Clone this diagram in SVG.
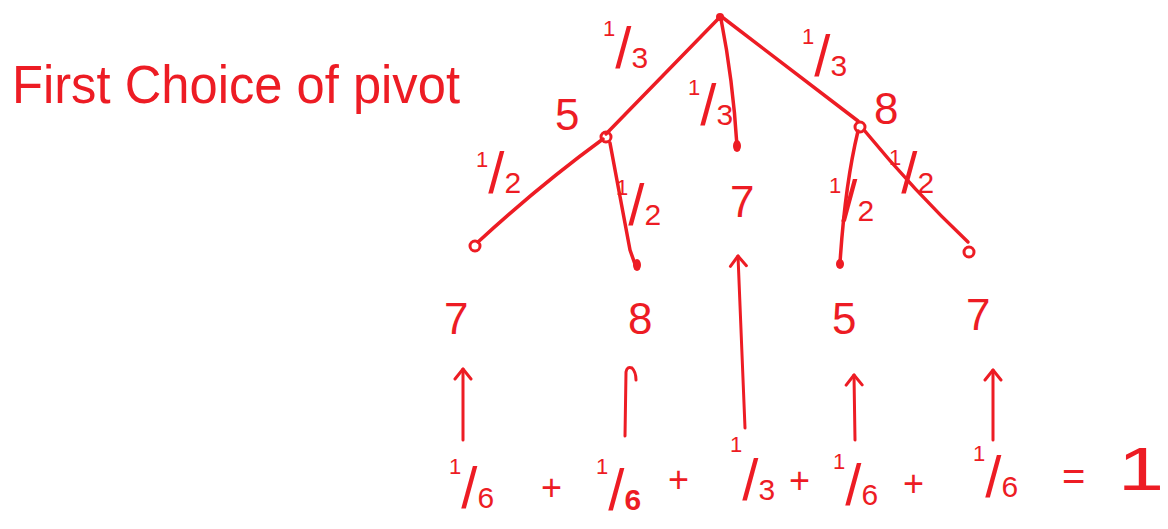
<svg xmlns="http://www.w3.org/2000/svg" width="1168" height="529" viewBox="0 0 1168 529">
<defs>
<style>
.ink{fill:#ed1c24;font-family:"Liberation Sans","DejaVu Sans",sans-serif;}
.edge{fill:none;stroke:#ed1c24;stroke-width:3.5;stroke-linecap:round;stroke-linejoin:round;}
.arr{fill:none;stroke:#ed1c24;stroke-width:3;stroke-linecap:round;stroke-linejoin:round;}
.ring{fill:none;stroke:#ed1c24;stroke-width:3;}
.dot{fill:#ed1c24;}
.big{font-size:44px;}
.n{font-size:22px;}
.s{font-size:58px;}
.d{font-size:30px;}
.plus{font-size:36px;}
</style>
<marker id="head" viewBox="0 0 20 20" refX="16" refY="10" markerWidth="20" markerHeight="20" markerUnits="userSpaceOnUse" orient="auto">
<path d="M6,2 L16,10 L6,18" fill="none" stroke="#ed1c24" stroke-width="3" stroke-linecap="round" stroke-linejoin="round"/>
</marker>
</defs>
<rect width="1168" height="529" fill="#ffffff"/>

<g id="title">
<text class="ink" x="12" y="103" font-size="54" textLength="448" lengthAdjust="spacingAndGlyphs">First Choice of pivot</text>
</g>

<g id="connectors">
<path class="edge" d="M720,17 L606,134"/>
<path class="edge" d="M721,19 Q733,80 737,146"/>
<path class="edge" d="M722,17 L858,121"/>
<path class="edge" d="M603,139 Q540,185 478,242"/>
<path class="edge" d="M610,143 L630,250 L636,267"/>
<path class="edge" d="M858,131 Q845,185 840,263"/>
<path class="edge" d="M864,130 Q915,192 968,242"/>
<path class="arr" d="M463,440 L463,369" marker-end="url(#head)"/>
<path class="arr" d="M625,436 L626,372 Q627,366 632,368 Q636,372 636,380"/>
<path class="arr" d="M745,428 L738,256" marker-end="url(#head)"/>
<path class="arr" d="M855,440 L854,375" marker-end="url(#head)"/>
<path class="arr" d="M993,440 L993,370" marker-end="url(#head)"/>
</g>

<g id="root">
<circle class="dot" cx="720" cy="17" r="4"/>
</g>

<g id="node-5">
<circle class="ring" cx="606" cy="137" r="5"/>
<text class="ink big" x="555" y="130">5</text>
</g>

<g id="node-7-mid">
<ellipse class="dot" cx="737" cy="146" rx="4" ry="6"/>
<text class="ink big" x="730" y="217">7</text>
</g>

<g id="node-8">
<circle class="ring" cx="860" cy="127" r="5"/>
<text class="ink big" x="874" y="124">8</text>
</g>

<g id="leaf-7a">
<circle class="ring" cx="475" cy="246" r="5"/>
<text class="ink big" x="444" y="334">7</text>
</g>

<g id="leaf-8">
<ellipse class="dot" cx="637" cy="265" rx="4" ry="6"/>
<text class="ink big" x="628" y="334">8</text>
</g>

<g id="leaf-5">
<ellipse class="dot" cx="840" cy="264" rx="4" ry="5"/>
<text class="ink big" x="832" y="334">5</text>
</g>

<g id="leaf-7b">
<circle class="ring" cx="969" cy="252" r="5"/>
<text class="ink big" x="966" y="330">7</text>
</g>

<g id="edge-labels">
<text class="ink" x="603" y="68"><tspan class="n" dy="-32">1</tspan><tspan class="s" dy="32">/</tspan><tspan class="d">3</tspan></text>
<text class="ink" x="688" y="125"><tspan class="n" dy="-30">1</tspan><tspan class="s" dy="30">/</tspan><tspan class="d">3</tspan></text>
<text class="ink" x="802" y="76"><tspan class="n" dy="-32">1</tspan><tspan class="s" dy="32">/</tspan><tspan class="d">3</tspan></text>
<text class="ink" x="476" y="193"><tspan class="n" dy="-26">1</tspan><tspan class="s" dy="26">/</tspan><tspan class="d">2</tspan></text>
<text class="ink" x="616" y="225"><tspan class="n" dy="-30">1</tspan><tspan class="s" dy="30">/</tspan><tspan class="d">2</tspan></text>
<text class="ink" x="829" y="221"><tspan class="n" dy="-28">1</tspan><tspan class="s" dy="28">/</tspan><tspan class="d">2</tspan></text>
<text class="ink" x="889" y="193"><tspan class="n" dy="-28">1</tspan><tspan class="s" dy="28">/</tspan><tspan class="d">2</tspan></text>
</g>

<g id="equation">
<text class="ink" x="449" y="508"><tspan class="n" dy="-34">1</tspan><tspan class="s" dy="34">/</tspan><tspan class="d">6</tspan></text>
<text class="ink plus" x="541" y="500">+</text>
<text class="ink" x="596" y="510"><tspan class="n" dy="-36">1</tspan><tspan class="s" dy="36">/</tspan><tspan class="d" font-weight="bold">6</tspan></text>
<text class="ink plus" x="668" y="492">+</text>
<text class="ink" x="730" y="500"><tspan class="n" dy="-48" font-size="26">1</tspan><tspan class="s" dy="48" font-size="68">/</tspan><tspan class="d">3</tspan></text>
<text class="ink plus" x="789" y="493">+</text>
<text class="ink" x="833" y="505"><tspan class="n" dy="-36">1</tspan><tspan class="s" dy="36">/</tspan><tspan class="d">6</tspan></text>
<text class="ink plus" x="903" y="496">+</text>
<text class="ink" x="973" y="497"><tspan class="n" dy="-36">1</tspan><tspan class="s" dy="36">/</tspan><tspan class="d">6</tspan></text>
<text class="ink" x="1062" y="490" font-size="40">=</text>
<text class="ink" x="1118" y="490" font-size="62" textLength="46" lengthAdjust="spacingAndGlyphs">1</text>
</g>
</svg>
